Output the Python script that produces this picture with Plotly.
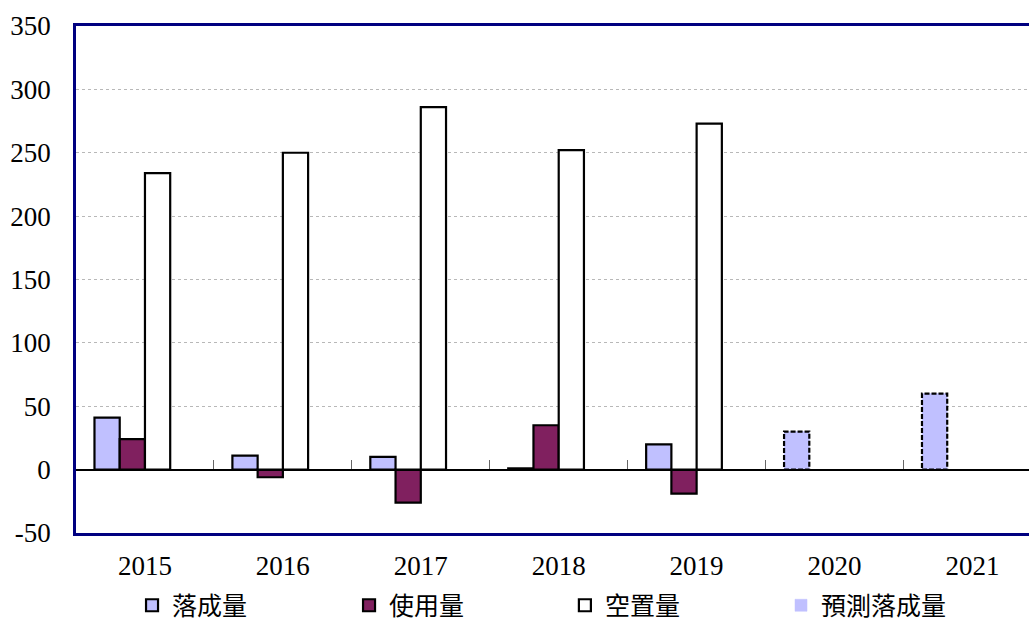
import plotly.graph_objects as go

years = ["2015", "2016", "2017", "2018", "2019", "2020", "2021"]
completed = [41, 11, 10, 1, 20, None, None]
used = [24, -6, -26, 35, -19, None, None]
vacant = [234, 250, 286, 252, 273, None, None]
forecast = [None, None, None, None, None, 30, 60]

names = ["落成量", "使用量", "空置量", "預測落成量"]
y_ticks = [-50, 0, 50, 100, 150, 200, 250, 300, 350]
y_tick_labels = ["-50", "0", "50", "100", "150", "200", "250", "300", "350"]

xs = list(range(len(years)))
W = 0.183
OFF = [-2 * W, -W, 0.0]

fig = go.Figure()
fig.add_trace(go.Bar(x=xs, y=completed, name=names[0], width=W, offset=OFF[0], legend="legend",
                     marker=dict(color="#C0C0FF", line=dict(color="black", width=2.2))))
fig.add_trace(go.Bar(x=xs, y=used, name=names[1], width=W, offset=OFF[1], legend="legend2",
                     marker=dict(color="#80205F", line=dict(color="black", width=2.2))))
fig.add_trace(go.Bar(x=xs, y=vacant, name=names[2], width=W, offset=OFF[2], legend="legend3",
                     marker=dict(color="white", line=dict(color="black", width=2.2))))
fig.add_trace(go.Bar(x=xs, y=forecast, name=names[3], width=W, offset=OFF[0], legend="legend4",
                     marker=dict(color="#C0C0FF", line=dict(color="#C0C0FF", width=0.5))))

# dashed outline of the forecast bars, in data coordinates
fx, fy = [], []
for i, v in zip(xs, forecast):
    if v is None:
        continue
    x0, x1 = i + OFF[0], i + OFF[0] + W
    fx += [x0, x1, x1, x0, x0, None]
    fy += [0, 0, v, v, 0, None]
fig.add_trace(go.Scatter(x=fx, y=fy, mode="lines", showlegend=False, hoverinfo="skip",
                         line=dict(color="black", width=2.2, dash="5px,2px")))

# helper trace for the category tick marks on the zero line
fig.add_trace(go.Scatter(x=[None], y=[None], xaxis="x2", showlegend=False, hoverinfo="skip"))

lfont = dict(family="Noto Sans CJK TC", size=25, color="black")
def leg(x):
    return dict(orientation="h", x=x, y=-0.143, xanchor="left", yanchor="middle",
                font=lfont, itemwidth=30, bgcolor="rgba(0,0,0,0)")

xr = [-0.5, 6.41]
fig.update_layout(
    width=1029, height=625,
    margin=dict(l=76, r=0, t=26, b=92, autoexpand=False),
    plot_bgcolor="white", paper_bgcolor="white",
    barmode="overlay",
    showlegend=True,
    legend=leg(0.0588), legend2=leg(0.2865), legend3=leg(0.513), legend4=leg(0.7398),
    xaxis=dict(range=xr, tickmode="array", tickvals=xs, ticktext=years,
               showgrid=False, zeroline=False, automargin=False,
               showline=True, linecolor="#000080", linewidth=2.5, mirror=True,
               ticks="outside", ticklen=7, tickcolor="rgba(0,0,0,0)",
               tickfont=dict(family="Liberation Serif", size=27, color="black")),
    xaxis2=dict(range=xr, overlaying="x", anchor="free", position=0.125,
                tickmode="array", tickvals=[i + 0.5 for i in xs[:-1]],
                ticks="inside", ticklen=9, tickcolor="#666666", tickwidth=1,
                showticklabels=False, showgrid=False, zeroline=False,
                showline=True, linecolor="black", linewidth=1.5),
    yaxis=dict(range=[-50, 350], tickmode="array", tickvals=y_ticks, ticktext=y_tick_labels,
               automargin=False,
               showgrid=True, gridcolor="#B8B8B8", gridwidth=1, griddash="dot",
               zeroline=False,
               showline=True, linecolor="#000080", linewidth=2.5,
               ticks="outside", ticklen=17, tickcolor="rgba(0,0,0,0)",
               tickfont=dict(family="Liberation Serif", size=27, color="black")),
)

fig.write_html("out.html", config={"displayModeBar": False},
               post_script="document.body.style.margin='0';document.body.style.overflow='hidden';")
